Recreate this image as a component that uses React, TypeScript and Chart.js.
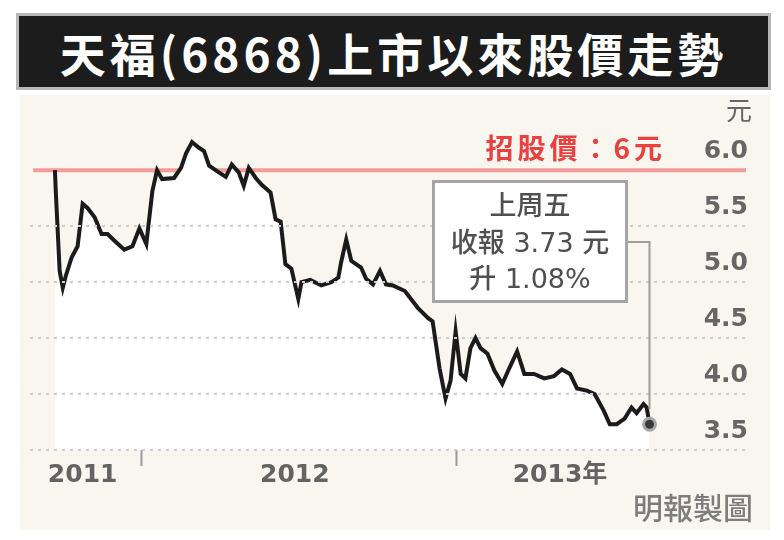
import { useEffect, useRef } from 'react';
import { Chart, registerables } from 'chart.js';

Chart.register(...registerables);

// Trading time as fractional year, closing price in HK$
const tradeTime = [
  2011.726, 2011.729, 2011.741, 2011.751, 2011.760, 2011.779, 2011.798, 2011.814, 2011.830, 2011.852,
  2011.874, 2011.893, 2011.915, 2011.946, 2011.972, 2011.994, 2012.016, 2012.035, 2012.050, 2012.066,
  2012.104, 2012.126, 2012.142, 2012.161, 2012.183, 2012.199, 2012.215, 2012.246, 2012.268, 2012.287,
  2012.309, 2012.325, 2012.341, 2012.363, 2012.382, 2012.410, 2012.426, 2012.442, 2012.457, 2012.476,
  2012.498, 2012.508, 2012.536, 2012.571, 2012.603, 2012.625, 2012.634, 2012.650, 2012.666, 2012.697,
  2012.713, 2012.735, 2012.757, 2012.776, 2012.798, 2012.836, 2012.877, 2012.909, 2012.924, 2012.946,
  2012.965, 2012.981, 2012.997, 2013.013, 2013.028, 2013.044, 2013.060, 2013.076, 2013.098, 2013.120,
  2013.145, 2013.167, 2013.192, 2013.215, 2013.246, 2013.278, 2013.309, 2013.334, 2013.360, 2013.382,
  2013.413, 2013.438, 2013.467, 2013.486, 2013.508, 2013.533, 2013.555, 2013.571, 2013.593, 2013.603,
  2013.612,
];
const closePrice = [
  6.00, 5.80, 5.10, 4.95, 5.05, 5.22, 5.32, 5.70, 5.66, 5.58,
  5.43, 5.43, 5.37, 5.29, 5.32, 5.48, 5.34, 5.81, 6.00, 5.92,
  5.93, 6.02, 6.15, 6.25, 6.20, 6.17, 6.04, 5.98, 5.94, 6.05,
  5.98, 5.86, 6.02, 5.93, 5.87, 5.80, 5.56, 5.54, 5.16, 5.12,
  4.85, 5.00, 5.02, 4.97, 5.00, 5.04, 5.18, 5.38, 5.19, 5.13,
  5.03, 4.98, 5.10, 4.98, 4.97, 4.92, 4.77, 4.68, 4.65, 4.23,
  3.96, 4.12, 4.56, 4.18, 4.14, 4.41, 4.50, 4.41, 4.36, 4.21,
  4.09, 4.23, 4.38, 4.18, 4.18, 4.14, 4.16, 4.22, 4.18, 4.05,
  4.03, 4.00, 3.85, 3.73, 3.73, 3.78, 3.88, 3.83, 3.91, 3.88,
  3.73,
];

const yTickValues = [3.5, 4.0, 4.5, 5.0, 5.5, 6.0];
const xLabelTicks = [2011.814, 2012.487, 2013.328];
const xLabelTexts = ['2011', '2012', '2013年'];
const yearBoundaries = [2012, 2013];
const xRange = [2011.647, 2013.918];
const yRange = [3.5, 6.6];
const ipoPrice = 6;
const ipoLineStart = 2011.657;

const titleText = '天福(6868)上市以來股價走勢';
const ipoLabel = '招股價：6元';
const noteLines = ['上周五', '收報 3.73 元', '升 1.08%'];
const unitLabel = '元';
const creditText = '明報製圖';

const overlayPlugin = {
  id: 'overlay',
  afterDraw(chart: any) {
    const ctx = chart.ctx as CanvasRenderingContext2D;
    const yScale = chart.scales.y;
    const meta = chart.getDatasetMeta(0);
    const last = meta.data[meta.data.length - 1];
    ctx.save();
    // IPO price label
    ctx.font = 'bold 28px "Noto Sans CJK TC", sans-serif';
    (ctx as any).letterSpacing = '4px';
    ctx.fillStyle = '#e9413f';
    ctx.textAlign = 'right';
    ctx.textBaseline = 'middle';
    ctx.fillText(ipoLabel, 666, yScale.getPixelForValue(ipoPrice) - 22);
    (ctx as any).letterSpacing = '0px';
    // connector
    ctx.strokeStyle = '#9c9c9c';
    ctx.lineWidth = 2;
    ctx.beginPath();
    ctx.moveTo(620, 242);
    ctx.lineTo(last.x, 242);
    ctx.lineTo(last.x, last.y - 15);
    ctx.stroke();
    // note box
    ctx.fillStyle = '#ffffff';
    ctx.fillRect(433, 181, 193, 120);
    ctx.lineWidth = 3;
    ctx.strokeStyle = '#a5a5a5';
    ctx.strokeRect(433.5, 181.5, 193, 120);
    ctx.fillStyle = '#505050';
    ctx.textAlign = 'center';
    ctx.font = '500 27px "DejaVu Sans", "Noto Sans CJK TC", sans-serif';
    const lineY = [208, 245, 281];
    noteLines.forEach((t, i) => ctx.fillText(t, 530, lineY[i]));
    ctx.restore();
  },
};

export default function App() {
  const ref = useRef<HTMLCanvasElement>(null);

  useEffect(() => {
    if (!ref.current) return;
    const lastIdx = closePrice.length - 1;
    const chart = new Chart(ref.current, {
      type: 'line',
      data: {
        datasets: [
          {
            data: tradeTime.map((t, i) => ({ x: t, y: closePrice[i] })),
            borderColor: '#1b1b1b',
            borderWidth: 4,
            backgroundColor: '#ffffff',
            fill: 'start',
            tension: 0,
            pointRadius: (c: any) => (c.dataIndex === lastIdx ? 6 : 0),
            pointBackgroundColor: '#3a3a3a',
            pointBorderColor: '#a8a8a8',
            pointBorderWidth: 3,
          },
          {
            data: [
              { x: ipoLineStart, y: ipoPrice },
              { x: xRange[1], y: ipoPrice },
            ],
            borderColor: '#f29c9c',
            borderWidth: 4,
            pointRadius: 0,
            fill: false,
          },
        ],
      },
      options: {
        animation: false,
        responsive: false,
        events: [],
        layout: { padding: { left: 30, right: 34, top: 103, bottom: 50 } },
        plugins: { legend: { display: false }, tooltip: { enabled: false } },
        scales: {
          x: {
            type: 'linear',
            min: xRange[0],
            max: xRange[1],
            afterBuildTicks: (s: any) => {
              s.ticks = [...xLabelTicks, ...yearBoundaries]
                .sort((a, b) => a - b)
                .map((v) => ({ value: v }));
            },
            afterFit: (s: any) => {
              s.height = 40;
            },
            ticks: {
              autoSkip: false,
              maxRotation: 0,
              padding: -6,
              color: '#636363',
              font: { family: '"DejaVu Sans", "Noto Sans CJK TC", sans-serif', size: 25, weight: 'bold' },
              callback: (v: any) => {
                const i = xLabelTicks.indexOf(Number(v));
                return i >= 0 ? xLabelTexts[i] : '';
              },
            },
            grid: {
              drawOnChartArea: false,
              drawTicks: true,
              tickLength: 16,
              tickWidth: 2,
              tickColor: (c: any) =>
                c.tick && yearBoundaries.includes(c.tick.value) ? '#9a9a9a' : 'rgba(0,0,0,0)',
            },
            border: { display: false },
          },
          y: {
            type: 'linear',
            position: 'right',
            min: yRange[0],
            max: yRange[1],
            afterBuildTicks: (s: any) => {
              s.ticks = yTickValues.map((v) => ({ value: v }));
            },
            ticks: {
              mirror: true,
              padding: 2,
              labelOffset: -19,
              color: '#666666',
              font: { family: '"DejaVu Sans", sans-serif', size: 25, weight: 'bold' },
              callback: (v: any) => Number(v).toFixed(1),
            },
            grid: {
              z: 1,
              drawTicks: false,
              lineWidth: 2,
              color: (c: any) => (c.tick && c.tick.value === ipoPrice ? 'rgba(0,0,0,0)' : '#cccccc'),
            },
            border: { display: false, dash: [3, 5] },
          },
        },
      },
      plugins: [overlayPlugin],
    } as any);
    return () => chart.destroy();
  }, []);

  return (
    <div
      style={{
        position: 'fixed',
        left: 0,
        top: 0,
        width: 784,
        height: 540,
        background: '#ffffff',
        overflow: 'hidden',
      }}
    >
      <div
        style={{
          position: 'absolute',
          left: 20,
          top: 95,
          width: 750,
          height: 435,
          background: '#f8f6ef',
        }}
      />
      <div
        style={{
          position: 'absolute',
          left: 16,
          top: 13,
          width: 755,
          height: 77,
          boxSizing: 'border-box',
          border: '3px solid #b8b8b8',
          background: '#1c1c1c',
          color: '#ffffff',
          display: 'flex',
          alignItems: 'center',
          justifyContent: 'center',
          fontFamily: '"Noto Sans CJK TC", sans-serif',
          fontWeight: 'bold',
          fontSize: 46,
          letterSpacing: 4,
          lineHeight: 1,
        }}
      >
        {titleText}
      </div>
      <canvas
        ref={ref}
        width={784}
        height={540}
        style={{ position: 'absolute', left: 0, top: 0, width: 784, height: 540 }}
      />
      <div
        style={{
          position: 'absolute',
          right: 32,
          top: 96,
          fontFamily: '"Noto Sans CJK TC", sans-serif',
          fontSize: 26,
          lineHeight: 1,
          color: '#666666',
        }}
      >
        {unitLabel}
      </div>
      <div
        style={{
          position: 'absolute',
          right: 31,
          top: 491,
          fontFamily: '"Noto Sans CJK TC", sans-serif',
          fontWeight: 500,
          fontSize: 30,
          lineHeight: 1,
          color: '#7d7d7d',
        }}
      >
        {creditText}
      </div>
    </div>
  );
}
